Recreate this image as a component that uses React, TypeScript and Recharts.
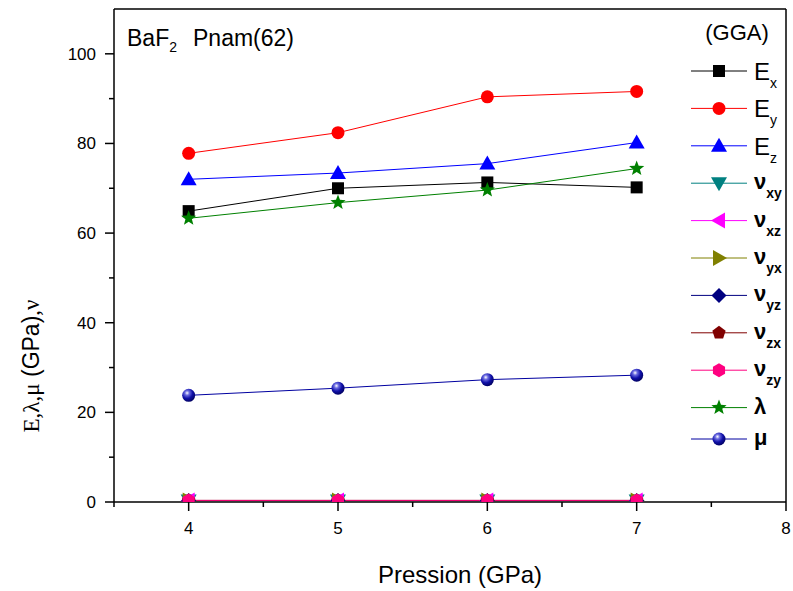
import React from "react";
import { LineChart, Line, XAxis, YAxis } from "recharts";

// Pressure points (GPa)
const pressure = [4, 5, 6, 7];

// Young's moduli (GPa)
const eX = [64.9, 70.0, 71.3, 70.2];
const eY = [77.8, 82.4, 90.4, 91.6];
const eZ = [72.0, 73.4, 75.5, 80.2];

// Poisson ratios (dimensionless)
const nuXY = [0.31, 0.31, 0.31, 0.31];
const nuXZ = [0.33, 0.33, 0.33, 0.33];
const nuYX = [0.35, 0.35, 0.35, 0.35];
const nuYZ = [0.34, 0.34, 0.34, 0.34];
const nuZX = [0.32, 0.32, 0.32, 0.32];
const nuZY = [0.36, 0.36, 0.36, 0.36];

// Lamé coefficients (GPa)
const lambda = [63.3, 66.8, 69.6, 74.4];
const mu = [23.8, 25.4, 27.3, 28.3];

const xTicks = [3.5, 4, 4.5, 5, 5.5, 6, 6.5, 7, 7.5, 8];
const yTicks = [0, 10, 20, 30, 40, 50, 60, 70, 80, 90, 100];

type Shape =
  | "square"
  | "circle"
  | "up"
  | "down"
  | "left"
  | "right"
  | "diamond"
  | "pentagon"
  | "hexagon"
  | "star"
  | "sphere";

const series: {
  key: string;
  values: number[];
  base: string;
  sub?: string;
  bold: boolean;
  color: string;
  shape: Shape;
}[] = [
  { key: "ex", values: eX, base: "E", sub: "x", bold: false, color: "#000000", shape: "square" },
  { key: "ey", values: eY, base: "E", sub: "y", bold: false, color: "#FF0000", shape: "circle" },
  { key: "ez", values: eZ, base: "E", sub: "z", bold: false, color: "#0000FF", shape: "up" },
  { key: "nxy", values: nuXY, base: "ν", sub: "xy", bold: true, color: "#008080", shape: "down" },
  { key: "nxz", values: nuXZ, base: "ν", sub: "xz", bold: true, color: "#FF00FF", shape: "left" },
  { key: "nyx", values: nuYX, base: "ν", sub: "yx", bold: true, color: "#808000", shape: "right" },
  { key: "nyz", values: nuYZ, base: "ν", sub: "yz", bold: true, color: "#000080", shape: "diamond" },
  { key: "nzx", values: nuZX, base: "ν", sub: "zx", bold: true, color: "#800000", shape: "pentagon" },
  { key: "nzy", values: nuZY, base: "ν", sub: "zy", bold: true, color: "#FF0080", shape: "hexagon" },
  { key: "lam", values: lambda, base: "λ", bold: true, color: "#008000", shape: "star" },
  { key: "mu", values: mu, base: "μ", bold: true, color: "#0000A0", shape: "sphere" },
];

const rows = pressure.map((p, i) => {
  const row: Record<string, number> = { p };
  series.forEach((s) => {
    row[s.key] = s.values[i];
  });
  return row;
});

const SANS = "Arial, 'Liberation Sans', sans-serif";
const SERIF = "'Times New Roman', 'Liberation Serif', serif";
const TICK = 9;
const GAP = 4;

function polygon(cx: number, cy: number, r: number, n: number, rot: number) {
  const pts: string[] = [];
  for (let k = 0; k < n; k++) {
    const a = rot + (k * 2 * Math.PI) / n;
    pts.push(`${cx + r * Math.cos(a)},${cy + r * Math.sin(a)}`);
  }
  return pts.join(" ");
}

function starPoints(cx: number, cy: number, ro: number, ri: number) {
  const pts: string[] = [];
  for (let k = 0; k < 10; k++) {
    const r = k % 2 === 0 ? ro : ri;
    const a = -Math.PI / 2 + (k * Math.PI) / 5;
    pts.push(`${cx + r * Math.cos(a)},${cy + r * Math.sin(a)}`);
  }
  return pts.join(" ");
}

function Marker({ cx, cy, shape, color }: { cx: number; cy: number; shape: Shape; color: string }) {
  if (cx == null || cy == null) return null;
  switch (shape) {
    case "square":
      return <rect x={cx - 6} y={cy - 6} width={12} height={12} fill={color} />;
    case "circle":
      return <circle cx={cx} cy={cy} r={6.5} fill={color} />;
    case "up":
      return <polygon points={`${cx},${cy - 8} ${cx + 8},${cy + 6} ${cx - 8},${cy + 6}`} fill={color} />;
    case "down":
      return <polygon points={`${cx},${cy + 8} ${cx + 8},${cy - 6} ${cx - 8},${cy - 6}`} fill={color} />;
    case "left":
      return <polygon points={`${cx - 8},${cy} ${cx + 6},${cy - 8} ${cx + 6},${cy + 8}`} fill={color} />;
    case "right":
      return <polygon points={`${cx + 8},${cy} ${cx - 6},${cy - 8} ${cx - 6},${cy + 8}`} fill={color} />;
    case "diamond":
      return <polygon points={polygon(cx, cy, 7.5, 4, 0)} fill={color} />;
    case "pentagon":
      return <polygon points={polygon(cx, cy, 7, 5, -Math.PI / 2)} fill={color} />;
    case "hexagon":
      return <polygon points={polygon(cx, cy, 7, 6, -Math.PI / 2)} fill={color} />;
    case "star":
      return <polygon points={starPoints(cx, cy, 8, 3.4)} fill={color} />;
    case "sphere":
      return <circle cx={cx} cy={cy} r={6.5} fill="url(#muSphere)" />;
  }
  return null;
}

function SphereDefs() {
  return (
    <defs>
      <radialGradient id="muSphere" cx="38%" cy="32%" r="70%">
        <stop offset="0%" stopColor="#FFFFFF" />
        <stop offset="25%" stopColor="#6A6AE0" />
        <stop offset="60%" stopColor="#1010A8" />
        <stop offset="100%" stopColor="#000060" />
      </radialGradient>
    </defs>
  );
}

function BottomTick(props: any) {
  const { x, y, payload } = props;
  const axisY = y - TICK - GAP;
  const major = Number.isInteger(payload.value);
  return (
    <g>
      <line x1={x} x2={x} y1={axisY} y2={axisY + (major ? TICK : 5)} stroke="#000" strokeWidth={1.5} />
      {major && (
        <text x={x} y={axisY + 32} textAnchor="middle" fontSize={17} fontFamily={SANS} fill="#000">
          {payload.value}
        </text>
      )}
    </g>
  );
}

function LeftTick(props: any) {
  const { x, y, payload } = props;
  const axisX = x + TICK + GAP;
  const major = payload.value % 20 === 0;
  return (
    <g>
      <line x1={axisX} x2={axisX - (major ? TICK : 5)} y1={y} y2={y} stroke="#000" strokeWidth={1.5} />
      {major && (
        <text x={axisX - 18} y={y + 6} textAnchor="end" fontSize={17} fontFamily={SANS} fill="#000">
          {payload.value}
        </text>
      )}
    </g>
  );
}

function LegendBox() {
  const rowY = (i: number) => (i < 10 ? 71 + i * 37.4 : 439);
  return (
    <g>
      <text x={737} y={40} textAnchor="middle" fontSize={22} fontFamily={SANS} fill="#000">
        (GGA)
      </text>
      {series.map((s, i) => {
        const y = rowY(i);
        const big = s.base === "E";
        return (
          <g key={s.key}>
            <line x1={691} x2={747} y1={y} y2={y} stroke={s.color} strokeWidth={1} />
            <Marker cx={719} cy={y} shape={s.shape} color={s.color} />
            <text
              x={754}
              y={y + (big ? 9 : 6)}
              fontSize={big ? 24 : 22}
              fontWeight={s.bold ? "bold" : "normal"}
              fontFamily={SANS}
              fill="#000"
            >
              {s.base}
              {s.sub && (
                <tspan fontSize={14} dy={big ? 8 : 9}>
                  {s.sub}
                </tspan>
              )}
            </text>
          </g>
        );
      })}
    </g>
  );
}

export default function App() {
  return (
    <div style={{ position: "absolute", left: 0, top: 0, width: 793, height: 591, background: "#fff" }}>
      <LineChart width={793} height={591} data={rows} margin={{ top: 9, right: 7, bottom: 29, left: 54 }}>
        <SphereDefs />
        <XAxis
          xAxisId="b"
          dataKey="p"
          type="number"
          domain={[3.5, 8]}
          ticks={xTicks}
          interval={0}
          height={60}
          tickSize={TICK}
          tickMargin={GAP}
          tickLine={false}
          tick={<BottomTick />}
          axisLine={{ stroke: "#000", strokeWidth: 1.5 }}
        />
        <XAxis
          xAxisId="t"
          orientation="top"
          mirror
          type="number"
          domain={[3.5, 8]}
          ticks={xTicks.slice(1, -1)}
          interval={0}
          tickSize={5}
          tick={false}
          tickLine={{ stroke: "#000" }}
          axisLine={{ stroke: "#000", strokeWidth: 1.5 }}
        />
        <YAxis
          yAxisId="l"
          type="number"
          domain={[0, 110]}
          ticks={yTicks}
          interval={0}
          width={60}
          allowDataOverflow
          tickSize={TICK}
          tickMargin={GAP}
          tickLine={false}
          tick={<LeftTick />}
          axisLine={{ stroke: "#000", strokeWidth: 1.5 }}
        />
        <YAxis
          yAxisId="r"
          orientation="right"
          mirror
          type="number"
          domain={[0, 110]}
          ticks={yTicks.slice(1)}
          interval={0}
          tickSize={5}
          tick={false}
          tickLine={{ stroke: "#000" }}
          axisLine={{ stroke: "#000", strokeWidth: 1.5 }}
        />
        {series.map((s) => (
          <Line
            key={s.key}
            xAxisId="b"
            yAxisId="l"
            type="linear"
            dataKey={s.key}
            stroke={s.color}
            strokeWidth={1}
            isAnimationActive={false}
            activeDot={false}
            dot={(p: any) => (
              <Marker key={`${s.key}-${p.index}`} cx={p.cx} cy={p.cy} shape={s.shape} color={s.color} />
            )}
          />
        ))}
        <LegendBox />
        <text x={127} y={46} fontSize={23} fontFamily={SANS} fill="#000">
          BaF
          <tspan fontSize={14} dy={6}>
            2
          </tspan>
        </text>
        <text x={193} y={46} fontSize={23} fontFamily={SANS} fill="#000">
          Pnam(62)
        </text>
        <text x={460} y={583} textAnchor="middle" fontSize={24} fontFamily={SANS} fill="#000">
          Pression (GPa)
        </text>
        <text transform="translate(39,366) rotate(-90)" textAnchor="middle" fontSize={23} fill="#000">
          <tspan fontFamily={SERIF}>E,λ,μ</tspan>
          <tspan fontFamily={SANS}> (GPa)</tspan>
          <tspan fontFamily={SERIF}>,ν</tspan>
        </text>
      </LineChart>
    </div>
  );
}
